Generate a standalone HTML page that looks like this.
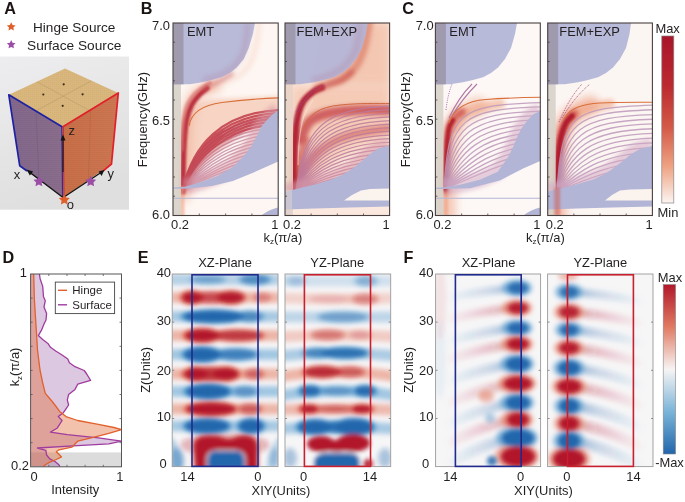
<!DOCTYPE html>
<html><head><meta charset="utf-8"><style>
html,body{margin:0;padding:0;background:#fff;}
svg{display:block;font-family:"Liberation Sans", sans-serif;}
text{opacity:0.995;}
</style></head><body>
<svg width="685" height="502" viewBox="0 0 685 502">
<defs><linearGradient id="bgA" x1="0" y1="0" x2="0.3" y2="1"><stop offset="0" stop-color="#ededef"/><stop offset="1" stop-color="#e0dfdf"/></linearGradient><linearGradient id="lface" x1="0" y1="0" x2="1" y2="0"><stop offset="0" stop-color="#83688c"/><stop offset="1" stop-color="#8b6e8c"/></linearGradient><linearGradient id="rface" x1="0" y1="0" x2="1" y2="0"><stop offset="0" stop-color="#c96f48"/><stop offset="1" stop-color="#ce7752"/></linearGradient><pattern id="hatch" width="3" height="2" patternUnits="userSpaceOnUse"><rect width="3" height="1" fill="#000" opacity="0.035"/></pattern><pattern id="dots" width="2" height="2" patternUnits="userSpaceOnUse"><rect width="1" height="1" fill="#8a6a40" opacity="0.06"/></pattern><filter id="bl1" filterUnits="userSpaceOnUse" x="0" y="0" width="685" height="502"><feGaussianBlur stdDeviation="1"/></filter><filter id="bl2" filterUnits="userSpaceOnUse" x="0" y="0" width="685" height="502"><feGaussianBlur stdDeviation="2"/></filter><filter id="bl4" filterUnits="userSpaceOnUse" x="0" y="0" width="685" height="502"><feGaussianBlur stdDeviation="4"/></filter><clipPath id="clip173"><rect x="173" y="23" width="105.19999999999999" height="192.5"/></clipPath><clipPath id="clip285"><rect x="285" y="23" width="104.60000000000002" height="192.5"/></clipPath><clipPath id="clip435"><rect x="435.4" y="23" width="104.89999999999998" height="192.5"/></clipPath><clipPath id="clip547"><rect x="547.7" y="23" width="104.69999999999993" height="192.5"/></clipPath><linearGradient id="cbC" x1="0" y1="0" x2="0" y2="1"><stop offset="0" stop-color="#a8152a"/><stop offset="0.3" stop-color="#bc2a30"/><stop offset="0.55" stop-color="#d45a48"/><stop offset="0.78" stop-color="#eea282"/><stop offset="1" stop-color="#fcf5f2"/></linearGradient><clipPath id="clipD"><rect x="30.6" y="274" width="90.9" height="192.8"/></clipPath><filter id="hb" filterUnits="userSpaceOnUse" x="0" y="0" width="685" height="502"><feGaussianBlur stdDeviation="2.2"/></filter><filter id="hb4" filterUnits="userSpaceOnUse" x="0" y="0" width="685" height="502"><feGaussianBlur stdDeviation="2.6"/></filter><linearGradient id="tRF" gradientUnits="userSpaceOnUse" x1="445" y1="0" x2="522" y2="0"><stop offset="0" stop-color="#b2182b" stop-opacity="0"/><stop offset="0.6" stop-color="#b2182b" stop-opacity="0.22"/><stop offset="1" stop-color="#b2182b" stop-opacity="0.5"/></linearGradient><linearGradient id="tBF" gradientUnits="userSpaceOnUse" x1="445" y1="0" x2="522" y2="0"><stop offset="0" stop-color="#2166ac" stop-opacity="0"/><stop offset="0.6" stop-color="#2166ac" stop-opacity="0.22"/><stop offset="1" stop-color="#2166ac" stop-opacity="0.5"/></linearGradient><linearGradient id="tRG" gradientUnits="userSpaceOnUse" x1="645" y1="0" x2="566" y2="0"><stop offset="0" stop-color="#b2182b" stop-opacity="0"/><stop offset="0.6" stop-color="#b2182b" stop-opacity="0.22"/><stop offset="1" stop-color="#b2182b" stop-opacity="0.5"/></linearGradient><linearGradient id="tBG" gradientUnits="userSpaceOnUse" x1="645" y1="0" x2="566" y2="0"><stop offset="0" stop-color="#2166ac" stop-opacity="0"/><stop offset="0.6" stop-color="#2166ac" stop-opacity="0.22"/><stop offset="1" stop-color="#2166ac" stop-opacity="0.5"/></linearGradient><clipPath id="clipEXZ"><rect x="172.2" y="274" width="105.80000000000001" height="192.60000000000002"/></clipPath><clipPath id="clipEYZ"><rect x="285.0" y="274" width="105.69999999999999" height="192.60000000000002"/></clipPath><clipPath id="clipFXZ"><rect x="435.6" y="274" width="105.0" height="192.60000000000002"/></clipPath><clipPath id="clipFYZ"><rect x="547.6" y="274" width="105.39999999999998" height="192.60000000000002"/></clipPath><linearGradient id="cbF" x1="0" y1="0" x2="0" y2="1"><stop offset="0" stop-color="#b2182b"/><stop offset="0.25" stop-color="#e07a62"/><stop offset="0.5" stop-color="#f7f4f4"/><stop offset="0.75" stop-color="#7ab4d8"/><stop offset="1" stop-color="#2166ac"/></linearGradient></defs>
<text x="4.3" y="14" font-size="16.2" text-anchor="start" font-weight="bold" fill="#1a1311" >A</text>
<text x="140.8" y="14" font-size="16.2" text-anchor="start" font-weight="bold" fill="#1a1311" >B</text>
<text x="402.2" y="14" font-size="16.2" text-anchor="start" font-weight="bold" fill="#1a1311" >C</text>
<text x="2.6" y="263" font-size="16.2" text-anchor="start" font-weight="bold" fill="#1a1311" >D</text>
<text x="137.7" y="263" font-size="16.2" text-anchor="start" font-weight="bold" fill="#1a1311" >E</text>
<text x="403.5" y="263" font-size="16.2" text-anchor="start" font-weight="bold" fill="#1a1311" >F</text>
<polygon points="11.20,22.20 12.55,24.94 15.57,25.38 13.39,27.51 13.90,30.52 11.20,29.10 8.50,30.52 9.01,27.51 6.83,25.38 9.85,24.94" fill="#e0602c"/>
<polygon points="11.20,40.00 12.55,42.74 15.57,43.18 13.39,45.31 13.90,48.32 11.20,46.90 8.50,48.32 9.01,45.31 6.83,43.18 9.85,42.74" fill="#9b4ea6"/>
<text x="33.0" y="31.9" font-size="13.6" text-anchor="start" font-weight="normal" fill="#231f20" >Hinge Source</text>
<text x="27.0" y="49.7" font-size="13.7" text-anchor="start" font-weight="normal" fill="#231f20" >Surface Source</text>
<rect x="0" y="56.5" width="129" height="153.2" fill="url(#bgA)"/>
<polygon points="65,68.6 8.8,94.8 62.5,127 118.3,93" fill="#d8b67c"/>
<polygon points="65,68.6 8.8,94.8 62.5,127 118.3,93" fill="url(#dots)"/>
<polygon points="8.8,94.8 62.5,127 63.3,197.5 19.7,165.7" fill="url(#lface)"/>
<polygon points="8.8,94.8 62.5,127 63.3,197.5 19.7,165.7" fill="url(#hatch)"/>
<polygon points="62.5,127 118.3,93 111.5,164 63.3,197.5" fill="url(#rface)"/>
<polygon points="62.5,127 118.3,93 111.5,164 63.3,197.5" fill="url(#hatch)"/>
<path d="M36.9,81.7 L90.3,111 M91.6,80.8 L35.6,111" stroke="#7a5a36" stroke-opacity="0.35" stroke-width="0.5" fill="none"/>
<circle cx="63.7" cy="84.3" r="1.1" fill="#3a2a1a"/>
<circle cx="43.3" cy="94.5" r="1.1" fill="#3a2a1a"/>
<circle cx="82.6" cy="94.3" r="1.1" fill="#3a2a1a"/>
<circle cx="62.7" cy="105.8" r="1.1" fill="#3a2a1a"/>
<path d="M36,111 L39,182 M90.5,110 L88.5,181" stroke="#000" stroke-opacity="0.12" stroke-width="0.6"/>
<polyline points="62.5,127 8.8,94.8 19.7,165.7 27,171" fill="none" stroke="#1e22a0" stroke-width="1.7" stroke-linejoin="round"/>
<line x1="61.8" y1="127" x2="62.6" y2="197" stroke="#2a2d9c" stroke-width="1.2"/>
<polyline points="62.5,127 118.3,93 111.5,164 103,171" fill="none" stroke="#e0202a" stroke-width="1.7" stroke-linejoin="round"/>
<line x1="63.3" y1="127" x2="64" y2="197" stroke="#d8232a" stroke-width="1"/>
<path d="M63,197.5 L30,172.5 M63.3,197.5 L101,172.5" stroke="#141414" stroke-width="1.4"/>
<path d="M26.5,169.6 L33.2,171.4 L29.8,175.6 Z" fill="#141414"/>
<path d="M104.5,169.8 L101.6,176 L98.6,171.6 Z" fill="#141414"/>
<path d="M63,172 L63,139" stroke="#141414" stroke-width="1.1"/><path d="M60.5,140.5 L63,134.5 L65.5,140.5 Z" fill="#141414"/>
<text x="68.6" y="134.6" font-size="13" text-anchor="start" font-weight="normal" fill="#231f20" >z</text>
<text x="13.8" y="178.6" font-size="13" text-anchor="start" font-weight="normal" fill="#231f20" >x</text>
<text x="107.6" y="178.4" font-size="13" text-anchor="start" font-weight="normal" fill="#231f20" >y</text>
<text x="66.8" y="209.2" font-size="13" text-anchor="start" font-weight="normal" fill="#231f20" >o</text>
<polygon points="38.90,175.80 40.60,179.25 44.42,179.81 41.66,182.50 42.31,186.29 38.90,184.50 35.49,186.29 36.14,182.50 33.38,179.81 37.20,179.25" fill="#9b4ea6"/>
<polygon points="90.70,175.80 92.40,179.25 96.22,179.81 93.46,182.50 94.11,186.29 90.70,184.50 87.29,186.29 87.94,182.50 85.18,179.81 89.00,179.25" fill="#9b4ea6"/>
<polygon points="64.30,194.00 66.00,197.45 69.82,198.01 67.06,200.70 67.71,204.49 64.30,202.70 60.89,204.49 61.54,200.70 58.78,198.01 62.60,197.45" fill="#e0602c"/>
<g clip-path="url(#clip173)">
<rect x="173" y="23" width="105.19999999999999" height="192.5" fill="#fdf6f2"/>
<path d="M184,188 L185,125 C187,108 195,100 215,99 L280,96 L280,113 C250,122 220,140 200,165 L186,188 Z" fill="#f6cfbd" opacity="0.85" filter="url(#bl2)"/>
<path d="M184.0,195.0 C184.2,187.5 184.3,163.3 185.0,150.0 C185.7,136.7 186.2,124.2 188.0,115.0 C189.8,105.8 191.5,99.8 196.0,95.0 C200.5,90.2 211.8,87.5 215.0,86.0" stroke="#f2b49a" stroke-width="12" fill="none" stroke-linecap="round" opacity="0.7" filter="url(#bl4)"/>
<path d="M212.0,86.0 C215.8,84.7 228.8,81.5 235.0,78.0 C241.2,74.5 245.5,70.5 249.0,65.0 C252.5,59.5 254.3,52.0 256.0,45.0 C257.7,38.0 258.5,26.7 259.0,23.0" stroke="#f6cdbb" stroke-width="6" fill="none" stroke-linecap="round" opacity="0.35" filter="url(#bl2)"/>
<path d="M183.0,192.0 C183.1,187.5 183.1,173.7 183.3,165.0 C183.5,156.3 183.8,147.5 184.3,140.0 C184.8,132.5 185.3,125.8 186.5,120.0 C187.7,114.2 189.4,109.2 191.5,105.0 C193.6,100.8 196.4,97.8 199.0,95.0 C201.6,92.2 205.7,89.2 207.0,88.0" stroke="#bb3340" stroke-width="5.5" fill="none" stroke-linecap="round" filter="url(#bl1)"/>
<path d="M204.0,90.0 C205.3,89.2 209.0,86.7 212.0,85.0 C215.0,83.3 218.7,81.8 222.0,80.0 C225.3,78.2 230.3,75.0 232.0,74.0" stroke="#c85858" stroke-width="4" fill="none" stroke-linecap="round" opacity="0.55" filter="url(#bl2)"/>
<path d="M182.0,150.0 C182.2,145.8 182.3,132.0 183.0,125.0 C183.7,118.0 184.5,112.7 186.0,108.0 C187.5,103.3 189.7,100.2 192.0,97.0 C194.3,93.8 197.0,91.3 200.0,89.0 C203.0,86.7 208.3,84.0 210.0,83.0" stroke="#d46a66" stroke-width="4" fill="none" stroke-linecap="round" opacity="0.65" filter="url(#bl1)"/>
<path d="M183.0,189.0 C192.5,146.4 221.1,120.1 280.2,118.0 M183.0,189.0 C194.0,149.4 222.5,123.3 280.2,121.2 M183.0,189.0 C195.4,152.3 224.0,126.4 280.2,124.5 M183.0,189.0 C196.9,155.0 225.5,129.5 280.2,127.7 M183.0,189.0 C198.4,157.7 226.9,132.7 280.2,130.9 M183.0,189.0 C199.8,160.3 228.4,135.8 280.2,134.2 M183.0,189.0 C201.3,162.8 229.9,138.9 280.2,137.4 M183.0,189.0 C202.8,165.2 231.3,142.1 280.2,140.6 M183.0,189.0 C204.2,167.5 232.8,145.2 280.2,143.8 M183.0,189.0 C205.7,169.7 234.3,148.3 280.2,147.1 M183.0,189.0 C207.2,171.7 235.7,151.5 280.2,150.3 M183.0,189.0 C208.6,173.7 237.2,154.6 280.2,153.5 M183.0,189.0 C210.1,175.6 238.7,157.7 280.2,156.8 M183.0,189.0 C211.6,177.4 240.1,160.9 280.2,160.0" fill="none" stroke="#c890a8" stroke-width="1.4" opacity="0.85"/>
<path d="M183.0,189.0 C192.5,145.6 221.1,112.4 280.2,110.0 M183.0,189.0 C193.5,147.9 222.0,115.1 280.2,112.8 M183.0,189.0 C194.4,150.1 223.0,117.8 280.2,115.6 M183.0,189.0 C195.4,152.3 223.9,120.5 280.2,118.4 M183.0,189.0 C196.3,154.4 224.9,123.2 280.2,121.2 M183.0,189.0 C197.3,156.5 225.8,126.0 280.2,124.0" fill="none" stroke="#c03a48" stroke-width="2.2" opacity="0.85"/>
<path d="M184.0,186.0 C186.3,182.7 192.0,172.8 198.0,166.0 C204.0,159.2 211.7,151.5 220.0,145.0 C228.3,138.5 238.3,131.7 248.0,127.0 C257.7,122.3 273.0,118.7 278.0,117.0" stroke="#c8505a" stroke-width="7" fill="none" stroke-linecap="round" opacity="0.45" filter="url(#bl2)"/>
<ellipse cx="187" cy="183" rx="5" ry="7" fill="#c24050" opacity="0.55" filter="url(#bl2)"/>
<rect x="180" y="186" width="4.5" height="30" fill="#f0a080" opacity="0.6" filter="url(#bl1)"/>
<path d="M189,126 C191,113 203,105 222,102.5 S262,98.5 280,97.8" stroke="#d8703a" stroke-width="1.1" fill="none"/>
<rect x="173" y="23" width="8" height="192.5" fill="#d8d3ca" opacity="0.92"/>
<path d="M173,23 L255.0,23 L252.9,34 L248.7,48 L243.8,59 L236.8,67.4 L229.9,73 L221.5,77.2 L211.7,80 L202.0,82.2 L190.0,84.3 L173,84.3 Z" fill="#b3b5d6" opacity="0.93"/>
<rect x="173" y="23" width="10.5" height="61.3" fill="#9d97ab" opacity="0.9"/>
<path d="M203.0,80.0 C206.2,79.0 216.5,76.7 222.0,74.0 C227.5,71.3 232.3,68.0 236.0,64.0 C239.7,60.0 242.0,56.8 244.0,50.0 C246.0,43.2 247.3,27.5 248.0,23.0" stroke="#b06080" stroke-width="6" fill="none" opacity="0.18" filter="url(#bl2)"/>
<path d="M278.2,110.0 L272.0,115.0 L268.0,119.0 L262.0,125.5 L256.8,136.0 L251.6,146.0 L243.0,157.0 L232.8,167.0 L218.0,175.7 L201.0,182.0 L185.0,186.8" stroke="#d898a8" stroke-width="16" fill="none" opacity="0.55" stroke-linejoin="round" filter="url(#bl2)"/>
<path d="M278.2,110 L272.0,115 L268.0,119 L262.0,125.5 L256.8,136 L251.6,146 L243.0,157 L232.8,167 L218.0,175.7 L201.0,182 L185.0,186.8 L173.0,187.6 L173.0,188.8 L190.0,188.6 L211.8,186 L232.8,181 L253.7,172.5 L270.4,165 L278.2,161.5 Z" fill="#b3b5d6"/>
<path d="M173,197.8 H278.2 V198.8 H173 Z" fill="#b3b5d6"/>
<path d="M261.2,215.5 C268.2,210.5 273.2,208.5 278.2,207.5 V215.5 Z" fill="#b3b5d6"/>
</g>
<rect x="173" y="23" width="105.19999999999999" height="192.5" fill="none" stroke="#4a3f3f" stroke-width="1.1"/>
<path d="M173,42.2 h2 M173,61.5 h2 M173,80.8 h2 M173,100.0 h2 M173,119.2 h2 M173,138.5 h2 M173,157.8 h2 M173,177.0 h2 M173,196.2 h2 M199.3,215.5 v-2 M225.6,215.5 v-2 M251.9,215.5 v-2" stroke="#4a3f3f" stroke-width="0.8"/>
<text x="186.9" y="36" font-size="12.9" text-anchor="start" font-weight="normal" fill="#231f20" >EMT</text>
<text x="180.0" y="228.7" font-size="12.9" text-anchor="middle" font-weight="normal" fill="#231f20" >0.2</text>
<text x="274.8" y="228.7" font-size="12.9" text-anchor="middle" font-weight="normal" fill="#231f20" >1</text>
<g clip-path="url(#clip285)">
<rect x="285" y="23" width="104.60000000000002" height="192.5" fill="#fbe9df"/>
<path d="M325,23 L389.6,23 L389.6,133 L305,133 Z" fill="#f6cfbd" opacity="0.7" filter="url(#bl4)"/>
<path d="M330,84 L389,84 L389,23 L365,23 Z" fill="#f3c4ae" opacity="0.8" filter="url(#bl4)"/>
<path d="M318.0,88.0 C321.7,86.7 333.7,83.7 340.0,80.0 C346.3,76.3 352.0,71.3 356.0,66.0 C360.0,60.7 361.8,55.2 364.0,48.0 C366.2,40.8 368.2,27.2 369.0,23.0" stroke="#de8670" stroke-width="8" fill="none" stroke-linecap="round" opacity="0.8" filter="url(#bl2)"/>
<path d="M291,86 L389,86 L389,140 C360,145 330,160 300,192 L291,195 Z" fill="#f4c8b2" opacity="0.8" filter="url(#bl4)"/>
<path d="M291,150 L330,150 L300,192 L291,195 Z" fill="#ecb0a0" opacity="0.6" filter="url(#bl4)"/>
<path d="M300.0,140.0 C301.7,136.8 305.0,125.5 310.0,121.0 C315.0,116.5 321.7,114.8 330.0,113.0 C338.3,111.2 349.7,110.5 360.0,110.0 C370.3,109.5 386.7,110.0 392.0,110.0" stroke="#c43c44" stroke-width="10" fill="none" stroke-linecap="round" opacity="0.75" filter="url(#bl2)"/>
<path d="M298.0,178.0 C301.3,173.7 309.7,159.0 318.0,152.0 C326.3,145.0 335.7,140.0 348.0,136.0 C360.3,132.0 384.7,129.3 392.0,128.0" stroke="#cc5050" stroke-width="8" fill="none" stroke-linecap="round" opacity="0.55" filter="url(#bl2)"/>
<path d="M296.0,190.0 C296.7,185.0 298.3,168.3 300.0,160.0 C301.7,151.7 305.0,143.3 306.0,140.0" stroke="#c84848" stroke-width="8" fill="none" stroke-linecap="round" opacity="0.6" filter="url(#bl2)"/>
<path d="M293.5,196.0 C293.6,191.7 293.8,179.3 294.0,170.0 C294.2,160.7 294.4,148.7 295.0,140.0 C295.6,131.3 296.2,124.3 297.5,118.0 C298.8,111.7 300.4,106.3 303.0,102.0 C305.6,97.7 309.8,94.4 313.0,92.0 C316.2,89.6 320.5,88.2 322.0,87.5" stroke="#b42836" stroke-width="6.5" fill="none" stroke-linecap="round" filter="url(#bl1)"/>
<path d="M316.0,90.0 C318.0,89.2 323.7,86.7 328.0,85.0 C332.3,83.3 338.0,82.2 342.0,80.0 C346.0,77.8 350.3,73.3 352.0,72.0" stroke="#c64848" stroke-width="5" fill="none" stroke-linecap="round" opacity="0.6" filter="url(#bl2)"/>
<path d="M298.0,165.0 C298.2,160.5 298.5,146.2 299.5,138.0 C300.5,129.8 301.8,122.3 304.0,116.0 C306.2,109.7 311.5,102.7 313.0,100.0" stroke="#fbe4dc" stroke-width="1.2" fill="none" opacity="0.55"/>
<path d="M296.0,191.0 C303.5,127.2 324.1,108.5 391.6,106.0 M296.0,191.0 C304.5,131.3 325.4,112.1 391.6,109.6 M296.0,191.0 C305.4,135.3 326.8,115.6 391.6,113.2 M296.0,191.0 C306.4,139.1 328.1,119.1 391.6,116.9 M296.0,191.0 C307.4,142.8 329.4,122.6 391.6,120.5 M296.0,191.0 C308.4,146.4 330.8,126.1 391.6,124.1 M296.0,191.0 C309.4,149.9 332.1,129.6 391.6,127.7 M296.0,191.0 C310.4,153.2 333.4,133.1 391.6,131.3 M296.0,191.0 C311.3,156.4 334.8,136.6 391.6,135.0 M296.0,191.0 C312.3,159.5 336.1,140.1 391.6,138.6 M296.0,191.0 C313.3,162.5 337.5,143.7 391.6,142.2 M296.0,191.0 C314.3,165.4 338.8,147.2 391.6,145.8 M296.0,191.0 C315.3,168.1 340.1,150.7 391.6,149.4 M296.0,191.0 C316.2,170.8 341.5,154.2 391.6,153.0 M296.0,191.0 C317.2,173.3 342.8,157.7 391.6,156.7 M296.0,191.0 C318.2,175.6 344.1,161.2 391.6,160.3 M296.0,191.0 C319.2,177.9 345.5,164.7 391.6,163.9 M296.0,191.0 C320.2,180.0 346.8,168.2 391.6,167.5 M296.0,191.0 C321.1,182.1 348.1,171.7 391.6,171.1 M296.0,191.0 C322.1,184.0 349.5,175.2 391.6,174.8 M296.0,191.0 C323.1,185.7 350.8,178.8 391.6,178.4 M296.0,191.0 C324.1,187.4 352.2,182.3 391.6,182.0" fill="none" stroke="#bc7a9c" stroke-width="1.2" opacity="0.85"/>
<path d="M303,130 C308,114 320,107 340,105 S375,103.5 392,103.5" stroke="#d06a40" stroke-width="1" fill="none"/>
<path d="M296,112 C302,100 312,92 325,85" stroke="#a050a0" stroke-width="0.9" stroke-dasharray="1 1.2" fill="none"/>
<path d="M294,125 C298,108 306,96 318,86" stroke="#a050a0" stroke-width="0.9" stroke-dasharray="1 1.2" fill="none"/>
<rect x="285" y="23" width="8" height="192.5" fill="#e8d2c6" opacity="0.92"/>
<path d="M285,23 L367.7,23 L366.0,34 L362.0,48 L356.0,59 L349.0,67.4 L342.0,73 L334.0,77.2 L324.0,80 L314.0,82.2 L300.0,84.3 L285,84.3 Z" fill="#b3b5d6" opacity="0.93"/>
<rect x="285" y="23" width="10.5" height="61.3" fill="#9d97ab" opacity="0.9"/>
<path d="M312.0,80.0 C315.3,79.0 326.3,76.7 332.0,74.0 C337.7,71.3 342.0,68.3 346.0,64.0 C350.0,59.7 353.7,54.8 356.0,48.0 C358.3,41.2 359.3,27.2 360.0,23.0" stroke="#b06080" stroke-width="6" fill="none" opacity="0.18" filter="url(#bl2)"/>
<path d="M285.0,192.0 L300.0,188.0 L315.0,184.5 L330.0,180.0 L342.0,175.0 L352.0,169.0 L362.0,161.0 L370.0,154.0 L378.0,148.5 L389.6,145.5" stroke="#d898a8" stroke-width="16" fill="none" opacity="0.55" stroke-linejoin="round" filter="url(#bl2)"/>
<path d="M285.0,192 L300.0,188 L315.0,184.5 L330.0,180 L342.0,175 L352.0,169 L362.0,161 L370.0,154 L378.0,148.5 L389.6,145.5 L389.6,206.5 L349.6,207.5 L315.0,208.5 L285.0,209.5 Z" fill="#b3b5d6"/>
<rect x="285" y="190" width="7" height="25.5" fill="#d8d0d0" opacity="0.6"/>
<path d="M344.0,200.5 L352.0,195.0 L361.0,190.5 L370.0,189.0 L389.6,188.5 L389.6,200.5 Z" fill="#fbf3ee"/>
</g>
<rect x="285" y="23" width="104.60000000000002" height="192.5" fill="none" stroke="#4a3f3f" stroke-width="1.1"/>
<path d="M285,42.2 h2 M285,61.5 h2 M285,80.8 h2 M285,100.0 h2 M285,119.2 h2 M285,138.5 h2 M285,157.8 h2 M285,177.0 h2 M285,196.2 h2 M311.1,215.5 v-2 M337.3,215.5 v-2 M363.5,215.5 v-2" stroke="#4a3f3f" stroke-width="0.8"/>
<text x="296.6" y="36" font-size="12.9" text-anchor="start" font-weight="normal" fill="#231f20" >FEM+EXP</text>
<text x="292.0" y="228.7" font-size="12.9" text-anchor="middle" font-weight="normal" fill="#231f20" >0.2</text>
<text x="386.20000000000005" y="228.7" font-size="12.9" text-anchor="middle" font-weight="normal" fill="#231f20" >1</text>
<g clip-path="url(#clip435)">
<rect x="435.4" y="23" width="104.89999999999998" height="192.5" fill="#fdf8f6"/>
<path d="M447.0,215.0 C447.0,209.2 446.5,192.5 447.0,180.0 C447.5,167.5 448.2,150.3 450.0,140.0 C451.8,129.7 453.3,123.7 458.0,118.0 C462.7,112.3 474.7,108.0 478.0,106.0" stroke="#f2b8a0" stroke-width="18" fill="none" stroke-linecap="round" opacity="0.7" filter="url(#bl4)"/>
<path d="M455.0,128.0 C456.7,125.7 460.8,117.3 465.0,114.0 C469.2,110.7 474.2,109.7 480.0,108.0 C485.8,106.3 496.7,104.7 500.0,104.0" stroke="#f0a888" stroke-width="10" fill="none" stroke-linecap="round" opacity="0.6" filter="url(#bl2)"/>
<rect x="443.5" y="186" width="4.5" height="30" fill="#f0a080" opacity="0.65" filter="url(#bl1)"/>
<path d="M445.5,190.0 C445.6,186.7 445.8,177.5 446.0,170.0 C446.2,162.5 446.4,152.2 447.0,145.0 C447.6,137.8 448.2,131.7 449.5,127.0 C450.8,122.3 452.9,119.5 455.0,117.0 C457.1,114.5 460.8,112.8 462.0,112.0" stroke="#c83c3c" stroke-width="8" fill="none" stroke-linecap="round" opacity="0.7" filter="url(#bl2)"/>
<path d="M445.5,189.0 C445.6,185.8 445.8,177.3 446.0,170.0 C446.2,162.7 446.5,152.0 447.0,145.0 C447.5,138.0 448.0,132.2 449.0,128.0 C450.0,123.8 452.3,121.3 453.0,120.0" stroke="#b2202f" stroke-width="4.5" fill="none" stroke-linecap="round" filter="url(#bl1)"/>
<path d="M444.0,188.5 C448.8,111.1 458.4,105.1 542.3,102.5 M444.0,188.5 C450.7,118.7 461.8,109.2 542.3,106.8 M444.0,188.5 C452.5,125.9 465.1,113.4 542.3,111.0 M444.0,188.5 C454.4,132.8 468.4,117.5 542.3,115.3 M444.0,188.5 C456.2,139.2 471.8,121.6 542.3,119.6 M444.0,188.5 C458.1,145.2 475.1,125.8 542.3,123.8 M444.0,188.5 C459.9,150.9 478.4,129.9 542.3,128.1 M444.0,188.5 C461.8,156.1 481.8,134.1 542.3,132.4 M444.0,188.5 C463.6,161.0 485.1,138.2 542.3,136.7 M444.0,188.5 C465.5,165.4 488.4,142.4 542.3,140.9 M444.0,188.5 C467.3,169.5 491.8,146.5 542.3,145.2 M444.0,188.5 C469.2,173.2 495.1,150.6 542.3,149.5 M444.0,188.5 C471.0,176.5 498.4,154.8 542.3,153.7 M444.0,188.5 C472.9,179.3 501.8,158.9 542.3,158.0" fill="none" stroke="#bc98b8" stroke-width="1.3" opacity="0.85"/>
<path d="M449,118 C455,105 462,94 472,84 M452,116 C459,104 467,94 477,84" stroke="#b07aa4" stroke-width="1.1" fill="none"/>
<path d="M446,110 C447,100 449,92 452,84" stroke="#9a5aa0" stroke-width="0.9" stroke-dasharray="1 1.3" fill="none"/>
<path d="M449,123 C454,108 466,101 486,99.5 S525,97.5 542,97.3" stroke="#d8703a" stroke-width="1.1" fill="none"/>
<rect x="435.4" y="23" width="8" height="192.5" fill="#d8d3ca" opacity="0.92"/>
<path d="M435.4,23 L517.0,23 L515.0,34 L511.0,48 L505.0,59 L498.0,67.4 L491.0,73 L483.0,77.2 L473.0,80 L463.0,82.2 L450.0,84.3 L435.4,84.3 Z" fill="#b3b5d6" opacity="0.93"/>
<rect x="435.4" y="23" width="10.5" height="61.3" fill="#9d97ab" opacity="0.9"/>
<path d="M540.3,111.0 L533.6,114.0 L527.7,120.0 L521.7,127.9 L517.7,135.9 L512.7,147.8 L507.7,157.8 L497.8,171.7 L479.8,179.7 L460.0,184.7 L445.0,187.3" stroke="#d2a8c4" stroke-width="16" fill="none" opacity="0.55" stroke-linejoin="round" filter="url(#bl2)"/>
<path d="M540.3,111 L533.6,114 L527.7,120 L521.7,127.9 L517.7,135.9 L512.7,147.8 L507.7,157.8 L497.8,171.7 L479.8,179.7 L460.0,184.7 L445.0,187.3 L435.4,187.8 L435.4,189 L450.0,188.8 L469.9,188.2 L499.8,180.4 L523.7,168.2 L540.3,161 Z" fill="#b3b5d6"/>
<path d="M435.4,197.8 H540.3 V198.8 H435.4 Z" fill="#b3b5d6"/>
<path d="M523.3,215.5 C530.3,210.5 535.3,208.5 540.3,207.5 V215.5 Z" fill="#b3b5d6"/>
</g>
<rect x="435.4" y="23" width="104.89999999999998" height="192.5" fill="none" stroke="#4a3f3f" stroke-width="1.1"/>
<path d="M435.4,42.2 h2 M435.4,61.5 h2 M435.4,80.8 h2 M435.4,100.0 h2 M435.4,119.2 h2 M435.4,138.5 h2 M435.4,157.8 h2 M435.4,177.0 h2 M435.4,196.2 h2 M461.6,215.5 v-2 M487.8,215.5 v-2 M514.1,215.5 v-2" stroke="#4a3f3f" stroke-width="0.8"/>
<text x="449.29999999999995" y="36" font-size="12.9" text-anchor="start" font-weight="normal" fill="#231f20" >EMT</text>
<text x="442.4" y="228.7" font-size="12.9" text-anchor="middle" font-weight="normal" fill="#231f20" >0.2</text>
<text x="536.9" y="228.7" font-size="12.9" text-anchor="middle" font-weight="normal" fill="#231f20" >1</text>
<g clip-path="url(#clip547)">
<rect x="547.7" y="23" width="104.69999999999993" height="192.5" fill="#fcf6f3"/>
<path d="M557.0,215.0 C557.2,205.8 557.2,174.2 558.0,160.0 C558.8,145.8 559.7,137.5 562.0,130.0 C564.3,122.5 567.3,119.2 572.0,115.0 C576.7,110.8 587.0,106.7 590.0,105.0" stroke="#f0a890" stroke-width="18" fill="none" stroke-linecap="round" opacity="0.75" filter="url(#bl4)"/>
<path d="M565.0,130.0 C566.7,127.5 570.8,118.7 575.0,115.0 C579.2,111.3 584.2,109.8 590.0,108.0 C595.8,106.2 606.7,104.7 610.0,104.0" stroke="#f0a888" stroke-width="10" fill="none" stroke-linecap="round" opacity="0.6" filter="url(#bl2)"/>
<path d="M556.5,200.0 C556.6,196.7 556.7,187.5 557.0,180.0 C557.3,172.5 557.8,162.5 558.5,155.0 C559.2,147.5 560.2,140.5 561.5,135.0 C562.8,129.5 563.9,125.5 566.0,122.0 C568.1,118.5 572.7,115.3 574.0,114.0" stroke="#c83c3c" stroke-width="9" fill="none" stroke-linecap="round" opacity="0.7" filter="url(#bl2)"/>
<path d="M556.5,200.0 C556.6,196.7 556.7,187.5 557.0,180.0 C557.3,172.5 557.8,162.5 558.5,155.0 C559.2,147.5 560.2,140.3 561.5,135.0 C562.8,129.7 564.2,126.2 566.0,123.0 C567.8,119.8 571.0,117.2 572.0,116.0" stroke="#b01c2e" stroke-width="5.5" fill="none" stroke-linecap="round" filter="url(#bl1)"/>
<path d="M557.0,191.0 C561.8,113.6 571.3,107.6 654.4,105.0 M557.0,191.0 C563.4,121.1 574.2,112.2 654.4,109.7 M557.0,191.0 C565.0,128.2 577.0,116.8 654.4,114.5 M557.0,191.0 C566.5,135.0 579.9,121.4 654.4,119.2 M557.0,191.0 C568.1,141.4 582.8,125.9 654.4,123.9 M557.0,191.0 C569.7,147.4 585.6,130.5 654.4,128.7 M557.0,191.0 C571.3,153.0 588.5,135.1 654.4,133.4 M557.0,191.0 C572.9,158.2 591.3,139.7 654.4,138.1 M557.0,191.0 C574.5,163.1 594.2,144.3 654.4,142.9 M557.0,191.0 C576.1,167.6 597.1,148.9 654.4,147.6 M557.0,191.0 C577.7,171.7 599.9,153.5 654.4,152.3 M557.0,191.0 C579.3,175.4 602.8,158.1 654.4,157.1 M557.0,191.0 C580.9,178.7 605.7,162.7 654.4,161.8 M557.0,191.0 C582.4,181.7 608.5,167.3 654.4,166.5 M557.0,191.0 C584.0,184.3 611.4,171.9 654.4,171.3 M557.0,191.0 C585.6,186.5 614.2,176.4 654.4,176.0" fill="none" stroke="#bc98b8" stroke-width="1.3" opacity="0.85"/>
<path d="M562,118 C570,105 578,94 590,84 M559,122 C565,108 572,95 582,84" stroke="#a65079" stroke-width="0.9" stroke-dasharray="1 1" fill="none"/>
<path d="M564,119 C570,108 582,104 600,103 S640,102.3 655,102.3" stroke="#d8703a" stroke-width="1.1" fill="none"/>
<rect x="547.7" y="23" width="8" height="192.5" fill="#d8d3ca" opacity="0.92"/>
<path d="M547.7,23 L631.0,23 L629.5,34 L626.0,48 L620.0,59 L613.0,67.4 L606.0,73 L598.0,77.2 L588.0,80 L578.0,82.2 L565.0,84.3 L547.7,84.3 Z" fill="#b3b5d6" opacity="0.93"/>
<rect x="547.7" y="23" width="10.5" height="61.3" fill="#9d97ab" opacity="0.9"/>
<path d="M547.7,191.5 L563.0,188.0 L578.0,184.0 L593.0,179.5 L605.0,174.0 L615.0,167.0 L624.0,160.0 L632.0,153.5 L640.0,149.0 L652.4,146.0" stroke="#d2a8c4" stroke-width="16" fill="none" opacity="0.55" stroke-linejoin="round" filter="url(#bl2)"/>
<path d="M547.7,191.5 L563.0,188 L578.0,184 L593.0,179.5 L605.0,174 L615.0,167 L624.0,160 L632.0,153.5 L640.0,149 L652.4,146 L652.4,206.5 L612.4,207.5 L577.7,208.5 L547.7,209.5 Z" fill="#b3b5d6"/>
<rect x="554.2" y="188" width="6" height="27.5" fill="#d0605a" opacity="0.55" filter="url(#bl1)"/>
<path d="M605.0,200.5 L612.0,195.0 L620.0,190.5 L630.0,189.5 L652.4,189.0 L652.4,200.5 Z" fill="#fbf3ee"/>
</g>
<rect x="547.7" y="23" width="104.69999999999993" height="192.5" fill="none" stroke="#4a3f3f" stroke-width="1.1"/>
<path d="M547.7,42.2 h2 M547.7,61.5 h2 M547.7,80.8 h2 M547.7,100.0 h2 M547.7,119.2 h2 M547.7,138.5 h2 M547.7,157.8 h2 M547.7,177.0 h2 M547.7,196.2 h2 M573.9,215.5 v-2 M600.0,215.5 v-2 M626.2,215.5 v-2" stroke="#4a3f3f" stroke-width="0.8"/>
<text x="559.3000000000001" y="36" font-size="12.9" text-anchor="start" font-weight="normal" fill="#231f20" >FEM+EXP</text>
<text x="554.7" y="228.7" font-size="12.9" text-anchor="middle" font-weight="normal" fill="#231f20" >0.2</text>
<text x="649.0" y="228.7" font-size="12.9" text-anchor="middle" font-weight="normal" fill="#231f20" >1</text>
<text x="170.0" y="29.6" font-size="12.9" text-anchor="end" font-weight="normal" fill="#231f20" >7.0</text>
<text x="170.0" y="124.5" font-size="12.9" text-anchor="end" font-weight="normal" fill="#231f20" >6.5</text>
<text x="170.0" y="219.0" font-size="12.9" text-anchor="end" font-weight="normal" fill="#231f20" >6.0</text>
<text x="433.6" y="29.6" font-size="12.9" text-anchor="end" font-weight="normal" fill="#231f20" >7.0</text>
<text x="433.6" y="124.5" font-size="12.9" text-anchor="end" font-weight="normal" fill="#231f20" >6.5</text>
<text x="433.6" y="219.0" font-size="12.9" text-anchor="end" font-weight="normal" fill="#231f20" >6.0</text>
<text transform="translate(147.0,119.6) rotate(-90)" font-size="12.9" text-anchor="middle" fill="#231f20">Frequency(GHz)</text>
<text transform="translate(409.8,119.6) rotate(-90)" font-size="12.9" text-anchor="middle" fill="#231f20">Frequency(GHz)</text>
<text x="263.5" y="241.8" font-size="12.9" fill="#231f20">k<tspan font-size="8" dy="2.5">z</tspan><tspan dy="-2.5">(π/a)</tspan></text>
<text x="526" y="241.8" font-size="12.9" fill="#231f20">k<tspan font-size="8" dy="2.5">z</tspan><tspan dy="-2.5">(π/a)</tspan></text>
<rect x="661.8" y="36" width="12" height="167" fill="url(#cbC)" stroke="#8a8585" stroke-width="0.7"/>
<text x="667.6" y="33" font-size="12.9" text-anchor="middle" font-weight="normal" fill="#231f20" >Max</text>
<text x="668" y="217" font-size="12.9" text-anchor="middle" font-weight="normal" fill="#231f20" >Min</text>
<g clip-path="url(#clipD)">
<rect x="30.6" y="452.4" width="90.9" height="14.400000000000034" fill="#dcdcdc"/>
<path d="M39.4,274.0 L40.1,278.7 L42.7,286.4 L43.5,296.8 L45.3,300.7 L44.0,307.0 L46.6,313.6 L46.0,320.0 L44.0,324.0 L41.4,330.4 L38.3,335.6 L42.7,339.5 L47.9,343.4 L50.5,347.3 L55.7,351.0 L62.1,355.0 L67.8,359.0 L69.4,362.8 L75.0,366.7 L84.2,370.5 L86.7,374.0 L90.6,380.4 L77.7,384.2 L75.0,389.4 L68.6,394.6 L67.3,399.8 L68.6,405.0 L66.0,408.8 L63.4,412.7 L58.3,416.6 L62.1,420.5 L59.6,424.4 L57.0,428.3 L50.5,432.1 L67.3,434.7 L98.4,437.8 L121.5,441.2 L108.8,443.8 L77.7,445.6 L37.5,448.0 L45.9,450.4 L46.6,455.0 L49.8,458.9 L55.0,461.5 L58.9,464.7 L60.0,466.8 L30.6,466.8 L30.6,274 Z" fill="rgb(138,72,152)" fill-opacity="0.3"/>
<path d="M33.7,274.0 L34.4,300.0 L36.3,330.0 L37.5,350.0 L40.0,370.0 L42.7,383.0 L45.3,393.3 L51.8,401.0 L55.7,406.0 L59.6,411.4 L66.0,416.6 L77.7,420.5 L98.4,424.4 L114.0,427.5 L121.5,429.6 L108.8,433.4 L93.2,437.3 L77.7,441.2 L75.7,443.3 L71.8,447.2 L58.9,449.8 L56.3,451.7 L58.9,454.3 L61.5,456.9 L56.3,459.5 L49.8,462.1 L45.3,464.7 L43.3,466.8 L30.6,466.8 L30.6,274 Z" fill="rgb(225,110,60)" fill-opacity="0.42"/>
<path d="M39.4,274.0 L40.1,278.7 L42.7,286.4 L43.5,296.8 L45.3,300.7 L44.0,307.0 L46.6,313.6 L46.0,320.0 L44.0,324.0 L41.4,330.4 L38.3,335.6 L42.7,339.5 L47.9,343.4 L50.5,347.3 L55.7,351.0 L62.1,355.0 L67.8,359.0 L69.4,362.8 L75.0,366.7 L84.2,370.5 L86.7,374.0 L90.6,380.4 L77.7,384.2 L75.0,389.4 L68.6,394.6 L67.3,399.8 L68.6,405.0 L66.0,408.8 L63.4,412.7 L58.3,416.6 L62.1,420.5 L59.6,424.4 L57.0,428.3 L50.5,432.1 L67.3,434.7 L98.4,437.8 L121.5,441.2 L108.8,443.8 L77.7,445.6 L37.5,448.0 L45.9,450.4 L46.6,455.0 L49.8,458.9 L55.0,461.5 L58.9,464.7 L60.0,466.8" fill="none" stroke="#a03c9e" stroke-width="1.3" stroke-linejoin="round"/>
<path d="M33.7,274.0 L34.4,300.0 L36.3,330.0 L37.5,350.0 L40.0,370.0 L42.7,383.0 L45.3,393.3 L51.8,401.0 L55.7,406.0 L59.6,411.4 L66.0,416.6 L77.7,420.5 L98.4,424.4 L114.0,427.5 L121.5,429.6 L108.8,433.4 L93.2,437.3 L77.7,441.2 L75.7,443.3 L71.8,447.2 L58.9,449.8 L56.3,451.7 L58.9,454.3 L61.5,456.9 L56.3,459.5 L49.8,462.1 L45.3,464.7 L43.3,466.8" fill="none" stroke="#e2602c" stroke-width="1.3" stroke-linejoin="round"/>
</g>
<rect x="30.6" y="274" width="90.9" height="192.8" fill="none" stroke="#555" stroke-width="1"/>
<path d="M30.6,298.1 h2 M121.5,298.1 h-2 M30.6,322.2 h2 M121.5,322.2 h-2 M30.6,346.3 h2 M121.5,346.3 h-2 M30.6,370.4 h2 M121.5,370.4 h-2 M30.6,394.5 h2 M121.5,394.5 h-2 M30.6,418.6 h2 M121.5,418.6 h-2 M30.6,442.7 h2 M121.5,442.7 h-2 M48.8,466.8 v-2 M48.8,274 v2 M67.0,466.8 v-2 M67.0,274 v2 M85.1,466.8 v-2 M85.1,274 v2 M103.3,466.8 v-2 M103.3,274 v2" stroke="#555" stroke-width="0.8"/>
<rect x="55.3" y="282.1" width="59.3" height="31.5" fill="#fff" stroke="#444" stroke-width="0.9"/>
<path d="M58,290.3 h9" stroke="#e2602c" stroke-width="1.4"/><path d="M58,304.8 h9" stroke="#a03c9e" stroke-width="1.4"/>
<text x="72.3" y="293.8" font-size="11.5" text-anchor="start" font-weight="normal" fill="#231f20" >Hinge</text>
<text x="72.3" y="308.7" font-size="11.5" text-anchor="start" font-weight="normal" fill="#231f20" >Surface</text>
<text x="26.8" y="276.6" font-size="12.9" text-anchor="end" font-weight="normal" fill="#231f20" >1</text>
<text x="29.0" y="469.8" font-size="12.9" text-anchor="end" font-weight="normal" fill="#231f20" >0.2</text>
<text x="34.2" y="481" font-size="12.9" text-anchor="middle" font-weight="normal" fill="#231f20" >0</text>
<text x="119.8" y="481" font-size="12.9" text-anchor="middle" font-weight="normal" fill="#231f20" >1</text>
<text x="75.2" y="493.8" font-size="12.9" text-anchor="middle" font-weight="normal" fill="#231f20" >Intensity</text>
<text transform="translate(19,367) rotate(-90)" font-size="12.9" text-anchor="middle" fill="#231f20">k<tspan font-size="8" dy="2.5">z</tspan><tspan dy="-2.5">(π/a)</tspan></text>
<rect x="172.2" y="274" width="105.80000000000001" height="192.60000000000002" fill="#f7f6f7"/>
<g clip-path="url(#clipEXZ)">
<g filter="url(#hb4)">
<rect x="164.2" y="274.0" width="121.80000000000001" height="11" fill="#5fa0d0" fill-opacity="0.4375"/>
<ellipse cx="208" cy="279.5" rx="19.5" ry="5.7" fill="#5fa0d0" fill-opacity="0.315"/>
<ellipse cx="255" cy="279.5" rx="17.5" ry="6.7" fill="#5fa0d0" fill-opacity="0.49500000000000005"/>
<rect x="164.2" y="292.0" width="121.80000000000001" height="11" fill="#e4826a" fill-opacity="0.525"/>
<ellipse cx="192" cy="297.5" rx="13.5" ry="7.7" fill="#e4826a" fill-opacity="0.9"/>
<ellipse cx="231" cy="297.5" rx="16.5" ry="7.7" fill="#e4826a" fill-opacity="0.855"/>
<ellipse cx="212" cy="297.5" rx="28.5" ry="7.2" fill="#e4826a" fill-opacity="0.54"/>
<ellipse cx="262" cy="297.5" rx="11.5" ry="6.2" fill="#e4826a" fill-opacity="0.27"/>
<rect x="164.2" y="311.0" width="121.80000000000001" height="11" fill="#5fa0d0" fill-opacity="0.525"/>
<ellipse cx="213" cy="316.5" rx="33.5" ry="7.7" fill="#5fa0d0" fill-opacity="0.9"/>
<ellipse cx="250" cy="316.5" rx="15.5" ry="6.7" fill="#5fa0d0" fill-opacity="0.49500000000000005"/>
<rect x="164.2" y="330.0" width="121.80000000000001" height="11" fill="#e4826a" fill-opacity="0.5625"/>
<ellipse cx="202" cy="335.5" rx="20.5" ry="8.2" fill="#e4826a" fill-opacity="0.9"/>
<ellipse cx="238" cy="335.5" rx="28.5" ry="7.2" fill="#e4826a" fill-opacity="0.675"/>
<rect x="164.2" y="349.0" width="121.80000000000001" height="11" fill="#5fa0d0" fill-opacity="0.5625"/>
<ellipse cx="202" cy="354.5" rx="21.5" ry="8.7" fill="#5fa0d0" fill-opacity="0.9"/>
<ellipse cx="236" cy="354.5" rx="23.5" ry="7.2" fill="#5fa0d0" fill-opacity="0.5850000000000001"/>
<rect x="164.2" y="368.5" width="121.80000000000001" height="11" fill="#e4826a" fill-opacity="0.5625"/>
<ellipse cx="196" cy="374" rx="14.5" ry="8.2" fill="#e4826a" fill-opacity="0.9"/>
<ellipse cx="226" cy="374" rx="15.5" ry="8.2" fill="#e4826a" fill-opacity="0.9"/>
<ellipse cx="211" cy="374" rx="31.5" ry="8.2" fill="#e4826a" fill-opacity="0.7200000000000001"/>
<ellipse cx="254" cy="374" rx="12.5" ry="6.7" fill="#e4826a" fill-opacity="0.405"/>
<rect x="164.2" y="386.0" width="121.80000000000001" height="11" fill="#5fa0d0" fill-opacity="0.5625"/>
<ellipse cx="208" cy="391.5" rx="25.5" ry="8.7" fill="#5fa0d0" fill-opacity="0.9"/>
<ellipse cx="245" cy="391.5" rx="14.5" ry="6.7" fill="#5fa0d0" fill-opacity="0.405"/>
<rect x="164.2" y="403.5" width="121.80000000000001" height="11" fill="#e4826a" fill-opacity="0.5625"/>
<ellipse cx="211" cy="409" rx="28.5" ry="8.2" fill="#e4826a" fill-opacity="0.9"/>
<ellipse cx="250" cy="409" rx="14.5" ry="6.7" fill="#e4826a" fill-opacity="0.45"/>
<rect x="164.2" y="420.5" width="121.80000000000001" height="11" fill="#5fa0d0" fill-opacity="0.525"/>
<ellipse cx="207" cy="426" rx="25.5" ry="8.7" fill="#5fa0d0" fill-opacity="0.9"/>
<ellipse cx="251" cy="426" rx="15.5" ry="8.7" fill="#5fa0d0" fill-opacity="0.9"/>
<ellipse cx="176" cy="460" rx="8" ry="12" fill="#2166ac" fill-opacity="0.5"/>
<ellipse cx="275" cy="458" rx="6" ry="10" fill="#2166ac" fill-opacity="0.35"/>
<ellipse cx="225" cy="445" rx="45" ry="12" fill="#b2182b" fill-opacity="0.3"/>
<path d="M193,446 C193,437 200,434 212,434.5 C222,435 226,438 229,438 C233,438 238,434 246,434.5 C256,435 259,440 259,447 L259,470 L193,470 Z" fill="#e4826a" fill-opacity="0.7"/>
<path d="M168,440 Q176,445 180,470" stroke="#5fa0d0" stroke-opacity="0.5" stroke-width="8" fill="none"/>
<path d="M282,440 Q274,445 270,470" stroke="#5fa0d0" stroke-opacity="0.4" stroke-width="8" fill="none"/>
</g><g filter="url(#hb)">
<ellipse cx="208" cy="279.5" rx="16" ry="3.5" fill="#2166ac" fill-opacity="0.35"/>
<ellipse cx="255" cy="279.5" rx="14" ry="4.5" fill="#2166ac" fill-opacity="0.55"/>
<ellipse cx="192" cy="297.5" rx="10" ry="5.5" fill="#b2182b" fill-opacity="1.0"/>
<ellipse cx="231" cy="297.5" rx="13" ry="5.5" fill="#b2182b" fill-opacity="0.95"/>
<ellipse cx="212" cy="297.5" rx="25" ry="5" fill="#b2182b" fill-opacity="0.6"/>
<ellipse cx="262" cy="297.5" rx="8" ry="4" fill="#b2182b" fill-opacity="0.3"/>
<ellipse cx="213" cy="316.5" rx="30" ry="5.5" fill="#2166ac" fill-opacity="1.0"/>
<ellipse cx="250" cy="316.5" rx="12" ry="4.5" fill="#2166ac" fill-opacity="0.55"/>
<ellipse cx="202" cy="335.5" rx="17" ry="6" fill="#b2182b" fill-opacity="1.0"/>
<ellipse cx="238" cy="335.5" rx="25" ry="5" fill="#b2182b" fill-opacity="0.75"/>
<ellipse cx="202" cy="354.5" rx="18" ry="6.5" fill="#2166ac" fill-opacity="1.0"/>
<ellipse cx="236" cy="354.5" rx="20" ry="5" fill="#2166ac" fill-opacity="0.65"/>
<ellipse cx="196" cy="374" rx="11" ry="6" fill="#b2182b" fill-opacity="1"/>
<ellipse cx="226" cy="374" rx="12" ry="6" fill="#b2182b" fill-opacity="1"/>
<ellipse cx="211" cy="374" rx="28" ry="6" fill="#b2182b" fill-opacity="0.8"/>
<ellipse cx="254" cy="374" rx="9" ry="4.5" fill="#b2182b" fill-opacity="0.45"/>
<ellipse cx="208" cy="391.5" rx="22" ry="6.5" fill="#2166ac" fill-opacity="1"/>
<ellipse cx="245" cy="391.5" rx="11" ry="4.5" fill="#2166ac" fill-opacity="0.45"/>
<ellipse cx="211" cy="409" rx="25" ry="6" fill="#b2182b" fill-opacity="1"/>
<ellipse cx="250" cy="409" rx="11" ry="4.5" fill="#b2182b" fill-opacity="0.5"/>
<ellipse cx="207" cy="426" rx="22" ry="6.5" fill="#2166ac" fill-opacity="1"/>
<ellipse cx="251" cy="426" rx="12" ry="6.5" fill="#2166ac" fill-opacity="1"/>
<path d="M194,446 C194,439 200,436 210,436 C220,436 225,439.5 229,439.5 C233,439.5 237,436 244,436 C252,436 257,440 257,446 L257,470 L244,470 L244,455 L240,452 L212,452 L208,455 L208,470 L196,470 Z" fill="#b2182b"/>
<path d="M207,470 L207,460 Q207,450.5 217,450.5 L235,450.5 Q245,450.5 245,460 L245,470 Z" fill="#2166ac" stroke="#f4f4f4" stroke-width="1.2"/>
</g></g>
<rect x="172.2" y="274" width="105.80000000000001" height="192.60000000000002" fill="none" stroke="#9a9a9a" stroke-width="0.9"/>
<rect x="285.0" y="274" width="105.69999999999999" height="192.60000000000002" fill="#f7f6f7"/>
<g clip-path="url(#clipEYZ)">
<g filter="url(#hb4)">
<rect x="277" y="275.5" width="121.69999999999999" height="11" fill="#5fa0d0" fill-opacity="0.25"/>
<ellipse cx="296" cy="281" rx="11.5" ry="6.2" fill="#5fa0d0" fill-opacity="0.18000000000000002"/>
<ellipse cx="366" cy="281" rx="13.5" ry="6.7" fill="#5fa0d0" fill-opacity="0.27"/>
<path d="M277,298 Q337.85,300 398.7,298" stroke="#e4826a" stroke-opacity="0.3" stroke-width="11" fill="none"/>
<ellipse cx="365" cy="299" rx="15.5" ry="6.7" fill="#e4826a" fill-opacity="0.315"/>
<ellipse cx="330" cy="299" rx="23.5" ry="5.7" fill="#e4826a" fill-opacity="0.108"/>
<rect x="277" y="311.5" width="121.69999999999999" height="11" fill="#5fa0d0" fill-opacity="0.375"/>
<ellipse cx="343" cy="317" rx="27.5" ry="6.7" fill="#5fa0d0" fill-opacity="0.342"/>
<path d="M277,337 Q337.85,333 398.7,337" stroke="#e4826a" stroke-opacity="0.375" stroke-width="11" fill="none"/>
<ellipse cx="328" cy="335" rx="19.5" ry="6.7" fill="#e4826a" fill-opacity="0.342"/>
<ellipse cx="360" cy="335" rx="13.5" ry="6.2" fill="#e4826a" fill-opacity="0.162"/>
<path d="M277,356 Q337.85,350 398.7,356" stroke="#5fa0d0" stroke-opacity="0.5" stroke-width="11" fill="none"/>
<ellipse cx="345" cy="353" rx="25.5" ry="6.7" fill="#5fa0d0" fill-opacity="0.765"/>
<ellipse cx="318" cy="353" rx="17.5" ry="6.2" fill="#5fa0d0" fill-opacity="0.54"/>
<path d="M277,377 Q337.85,367 398.7,377" stroke="#e4826a" stroke-opacity="0.5625" stroke-width="11" fill="none"/>
<ellipse cx="322" cy="372" rx="21.5" ry="7.2" fill="#e4826a" fill-opacity="0.765"/>
<ellipse cx="350" cy="372" rx="17.5" ry="6.7" fill="#e4826a" fill-opacity="0.45"/>
<path d="M277,396 Q337.85,386 398.7,396" stroke="#5fa0d0" stroke-opacity="0.5625" stroke-width="11" fill="none"/>
<ellipse cx="310" cy="391" rx="13.5" ry="6.7" fill="#5fa0d0" fill-opacity="0.855"/>
<ellipse cx="365" cy="391" rx="13.5" ry="6.7" fill="#5fa0d0" fill-opacity="0.855"/>
<ellipse cx="337" cy="391" rx="19.5" ry="5.7" fill="#5fa0d0" fill-opacity="0.405"/>
<path d="M277,410 Q337.85,408 398.7,410" stroke="#e4826a" stroke-opacity="0.525" stroke-width="11" fill="none"/>
<ellipse cx="309" cy="409" rx="12.5" ry="5.7" fill="#e4826a" fill-opacity="0.9"/>
<ellipse cx="362" cy="409" rx="13.5" ry="5.7" fill="#e4826a" fill-opacity="0.9"/>
<ellipse cx="335" cy="409" rx="21.5" ry="5.2" fill="#e4826a" fill-opacity="0.45"/>
<path d="M277,429 Q337.85,425 398.7,429" stroke="#5fa0d0" stroke-opacity="0.525" stroke-width="11" fill="none"/>
<ellipse cx="315" cy="427" rx="20.5" ry="8.7" fill="#5fa0d0" fill-opacity="0.9"/>
<ellipse cx="354" cy="427" rx="22.5" ry="9.7" fill="#5fa0d0" fill-opacity="0.9"/>
<ellipse cx="335" cy="427" rx="13.5" ry="7.2" fill="#5fa0d0" fill-opacity="0.7200000000000001"/>
<ellipse cx="290" cy="458" rx="7" ry="10" fill="#2166ac" fill-opacity="0.35"/>
<ellipse cx="385" cy="458" rx="7" ry="10" fill="#2166ac" fill-opacity="0.35"/>
</g><g filter="url(#hb)">
<ellipse cx="296" cy="281" rx="8" ry="4" fill="#2166ac" fill-opacity="0.2"/>
<ellipse cx="366" cy="281" rx="10" ry="4.5" fill="#2166ac" fill-opacity="0.3"/>
<ellipse cx="365" cy="299" rx="12" ry="4.5" fill="#b2182b" fill-opacity="0.35"/>
<ellipse cx="330" cy="299" rx="20" ry="3.5" fill="#b2182b" fill-opacity="0.12"/>
<ellipse cx="343" cy="317" rx="24" ry="4.5" fill="#2166ac" fill-opacity="0.38"/>
<ellipse cx="328" cy="335" rx="16" ry="4.5" fill="#b2182b" fill-opacity="0.38"/>
<ellipse cx="360" cy="335" rx="10" ry="4" fill="#b2182b" fill-opacity="0.18"/>
<ellipse cx="345" cy="353" rx="22" ry="4.5" fill="#2166ac" fill-opacity="0.85"/>
<ellipse cx="318" cy="353" rx="14" ry="4" fill="#2166ac" fill-opacity="0.6"/>
<ellipse cx="322" cy="372" rx="18" ry="5" fill="#b2182b" fill-opacity="0.85"/>
<ellipse cx="350" cy="372" rx="14" ry="4.5" fill="#b2182b" fill-opacity="0.5"/>
<ellipse cx="310" cy="391" rx="10" ry="4.5" fill="#2166ac" fill-opacity="0.95"/>
<ellipse cx="365" cy="391" rx="10" ry="4.5" fill="#2166ac" fill-opacity="0.95"/>
<ellipse cx="337" cy="391" rx="16" ry="3.5" fill="#2166ac" fill-opacity="0.45"/>
<ellipse cx="309" cy="409" rx="9" ry="3.5" fill="#b2182b" fill-opacity="1"/>
<ellipse cx="362" cy="409" rx="10" ry="3.5" fill="#b2182b" fill-opacity="1"/>
<ellipse cx="335" cy="409" rx="18" ry="3" fill="#b2182b" fill-opacity="0.5"/>
<ellipse cx="315" cy="427" rx="17" ry="6.5" fill="#2166ac" fill-opacity="1"/>
<ellipse cx="354" cy="427" rx="19" ry="7.5" fill="#2166ac" fill-opacity="1"/>
<ellipse cx="335" cy="427" rx="10" ry="5" fill="#2166ac" fill-opacity="0.8"/>
<ellipse cx="321" cy="444" rx="14" ry="8" fill="#b2182b" fill-opacity="1"/>
<ellipse cx="353" cy="443" rx="17" ry="9" fill="#b2182b" fill-opacity="1"/>
<ellipse cx="337" cy="446" rx="14" ry="6" fill="#b2182b" fill-opacity="1"/>
<path d="M313.5,470 L313.5,461 Q315,452.6 327,452.6 L347,452.6 Q360,452.6 360,461 L360,470 Z" fill="#2166ac" stroke="#f4f4f4" stroke-width="1.2"/>
<ellipse cx="368" cy="464" rx="5" ry="5" fill="#b2182b" fill-opacity="0.9"/>
</g></g>
<rect x="285.0" y="274" width="105.69999999999999" height="192.60000000000002" fill="none" stroke="#9a9a9a" stroke-width="0.9"/>
<rect x="435.6" y="274" width="105.0" height="192.60000000000002" fill="#f7f6f7"/>
<g clip-path="url(#clipFXZ)">
<g filter="url(#hb4)">
<path d="M522,288 Q490,289 445,298.0" stroke="url(#tBF)" stroke-width="8.0" fill="none"/>
<path d="M522,308 Q490,309 445,320.2" stroke="url(#tRF)" stroke-width="8.3" fill="none"/>
<path d="M522,328 Q490,329 445,342.4" stroke="url(#tBF)" stroke-width="8.6" fill="none"/>
<path d="M522,344 Q490,345 445,360.6" stroke="url(#tRF)" stroke-width="8.9" fill="none"/>
<path d="M522,364 Q490,365 445,382.8" stroke="url(#tBF)" stroke-width="9.2" fill="none"/>
<path d="M522,383.6 Q490,384.6 445,404.6" stroke="url(#tRF)" stroke-width="9.5" fill="none"/>
<path d="M522,402.7 Q490,403.7 445,425.9" stroke="url(#tBF)" stroke-width="9.8" fill="none"/>
<path d="M522,419.8 Q490,420.8 445,445.2" stroke="url(#tRF)" stroke-width="10.1" fill="none"/>
<path d="M522,438 Q490,439 445,465.6" stroke="url(#tBF)" stroke-width="10.4" fill="none"/>
<ellipse cx="517" cy="288" rx="15" ry="8.5" fill="#5fa0d0" fill-opacity="0.75"/>
<ellipse cx="517" cy="308" rx="15" ry="8.5" fill="#e4826a" fill-opacity="0.75"/>
<ellipse cx="517" cy="328" rx="15.5" ry="8.5" fill="#5fa0d0" fill-opacity="0.75"/>
<ellipse cx="517" cy="344" rx="16" ry="9" fill="#e4826a" fill-opacity="0.75"/>
<ellipse cx="517" cy="364" rx="17" ry="10" fill="#5fa0d0" fill-opacity="0.75"/>
<ellipse cx="517" cy="383.6" rx="19" ry="10" fill="#e4826a" fill-opacity="0.75"/>
<ellipse cx="517" cy="402.7" rx="17" ry="10" fill="#5fa0d0" fill-opacity="0.75"/>
<ellipse cx="517" cy="419.8" rx="16" ry="10" fill="#e4826a" fill-opacity="0.75"/>
<ellipse cx="517" cy="438" rx="21" ry="11.5" fill="#5fa0d0" fill-opacity="0.75"/>
<ellipse cx="517" cy="456.5" rx="22" ry="13" fill="#e4826a" fill-opacity="0.75"/>
<ellipse cx="440" cy="300" rx="6" ry="40" fill="#b2182b" fill-opacity="0.08"/>
<ellipse cx="440" cy="360" rx="6" ry="40" fill="#2166ac" fill-opacity="0.06"/>
<ellipse cx="486" cy="396" rx="8" ry="6" fill="#e4826a" fill-opacity="0.6"/>
<ellipse cx="490" cy="418" rx="5" ry="5" fill="#5fa0d0" fill-opacity="0.5"/>
</g><g filter="url(#hb)">
<ellipse cx="518" cy="288" rx="10" ry="5.5" fill="#2166ac" fill-opacity="0.9"/>
<ellipse cx="518" cy="308" rx="10" ry="5.5" fill="#b2182b" fill-opacity="0.95"/>
<ellipse cx="518" cy="328" rx="10.5" ry="5.5" fill="#2166ac" fill-opacity="0.95"/>
<ellipse cx="518" cy="344" rx="11" ry="6" fill="#b2182b" fill-opacity="1"/>
<ellipse cx="518" cy="364" rx="12" ry="7" fill="#2166ac" fill-opacity="1"/>
<ellipse cx="518" cy="383.6" rx="14" ry="7" fill="#b2182b" fill-opacity="1"/>
<ellipse cx="518" cy="402.7" rx="12" ry="7" fill="#2166ac" fill-opacity="1"/>
<ellipse cx="518" cy="419.8" rx="11" ry="7" fill="#b2182b" fill-opacity="1"/>
<ellipse cx="518" cy="438" rx="16" ry="8.5" fill="#2166ac" fill-opacity="1"/>
<ellipse cx="518" cy="456.5" rx="17" ry="10" fill="#b2182b" fill-opacity="1"/>
<ellipse cx="492" cy="461" rx="5" ry="5" fill="#2166ac" fill-opacity="0.85"/>
</g></g>
<rect x="435.6" y="274" width="105.0" height="192.60000000000002" fill="none" stroke="#9a9a9a" stroke-width="0.9"/>
<rect x="547.6" y="274" width="105.39999999999998" height="192.60000000000002" fill="#f7f6f7"/>
<g clip-path="url(#clipFYZ)">
<g filter="url(#hb4)">
<path d="M566,292 Q598,293 645,302.0" stroke="url(#tBG)" stroke-width="8.0" fill="none"/>
<path d="M566,312 Q598,313 645,324.2" stroke="url(#tRG)" stroke-width="8.3" fill="none"/>
<path d="M566,330 Q598,331 645,344.4" stroke="url(#tBG)" stroke-width="8.6" fill="none"/>
<path d="M566,348 Q598,349 645,364.6" stroke="url(#tRG)" stroke-width="8.9" fill="none"/>
<path d="M566,368 Q598,369 645,386.8" stroke="url(#tBG)" stroke-width="9.2" fill="none"/>
<path d="M566,386.5 Q598,387.5 645,407.5" stroke="url(#tRG)" stroke-width="9.5" fill="none"/>
<path d="M566,406 Q598,407 645,429.2" stroke="url(#tBG)" stroke-width="9.8" fill="none"/>
<path d="M566,423.5 Q598,424.5 645,448.9" stroke="url(#tRG)" stroke-width="10.1" fill="none"/>
<path d="M566,441 Q598,442 645,468.6" stroke="url(#tBG)" stroke-width="10.4" fill="none"/>
<ellipse cx="569" cy="292" rx="14" ry="8.5" fill="#5fa0d0" fill-opacity="0.7"/>
<ellipse cx="569" cy="312" rx="15" ry="9" fill="#e4826a" fill-opacity="0.7"/>
<ellipse cx="569" cy="330" rx="14" ry="8.5" fill="#5fa0d0" fill-opacity="0.7"/>
<ellipse cx="569" cy="348" rx="15" ry="9" fill="#e4826a" fill-opacity="0.7"/>
<ellipse cx="569" cy="368" rx="16" ry="10" fill="#5fa0d0" fill-opacity="0.7"/>
<ellipse cx="569" cy="386.5" rx="17" ry="10" fill="#e4826a" fill-opacity="0.7"/>
<ellipse cx="569" cy="406" rx="15" ry="10" fill="#5fa0d0" fill-opacity="0.7"/>
<ellipse cx="569" cy="423.5" rx="15" ry="10" fill="#e4826a" fill-opacity="0.7"/>
<ellipse cx="569" cy="441" rx="16" ry="11" fill="#5fa0d0" fill-opacity="0.7"/>
<ellipse cx="569" cy="459" rx="21" ry="13" fill="#e4826a" fill-opacity="0.7"/>
<ellipse cx="568" cy="276" rx="10" ry="4" fill="#e4826a" fill-opacity="0.6"/>
</g><g filter="url(#hb)">
<ellipse cx="569" cy="292" rx="9" ry="5.5" fill="#2166ac" fill-opacity="0.85"/>
<ellipse cx="569" cy="312" rx="10" ry="6" fill="#b2182b" fill-opacity="0.9"/>
<ellipse cx="569" cy="330" rx="9" ry="5.5" fill="#2166ac" fill-opacity="0.95"/>
<ellipse cx="569" cy="348" rx="10" ry="6" fill="#b2182b" fill-opacity="0.95"/>
<ellipse cx="569" cy="368" rx="11" ry="7" fill="#2166ac" fill-opacity="1"/>
<ellipse cx="569" cy="386.5" rx="12" ry="7" fill="#b2182b" fill-opacity="1"/>
<ellipse cx="569" cy="406" rx="10" ry="7" fill="#2166ac" fill-opacity="1"/>
<ellipse cx="569" cy="423.5" rx="10" ry="7" fill="#b2182b" fill-opacity="1"/>
<ellipse cx="569" cy="441" rx="11" ry="8" fill="#2166ac" fill-opacity="1"/>
<ellipse cx="569" cy="459" rx="16" ry="10" fill="#b2182b" fill-opacity="1"/>
</g></g>
<rect x="547.6" y="274" width="105.39999999999998" height="192.60000000000002" fill="none" stroke="#9a9a9a" stroke-width="0.9"/>
<rect x="192" y="274.8" width="66" height="191.6" fill="none" stroke="#1f2a8c" stroke-width="1.6"/>
<rect x="304.4" y="274.8" width="66.1" height="191.6" fill="none" stroke="#c8202e" stroke-width="1.6"/>
<rect x="455.4" y="274.8" width="65.8" height="191.6" fill="none" stroke="#1f2a8c" stroke-width="1.6"/>
<rect x="567.5" y="274.8" width="65.9" height="191.6" fill="none" stroke="#c8202e" stroke-width="1.6"/>
<path d="M172.2,418.5 h2 M278.0,418.5 h-2 M172.2,370.3 h2 M278.0,370.3 h-2 M172.2,322.1 h2 M278.0,322.1 h-2 M285.0,418.5 h2 M390.7,418.5 h-2 M285.0,370.3 h2 M390.7,370.3 h-2 M285.0,322.1 h2 M390.7,322.1 h-2 M435.6,418.5 h2 M540.6,418.5 h-2 M435.6,370.3 h2 M540.6,370.3 h-2 M435.6,322.1 h2 M540.6,322.1 h-2 M547.6,418.5 h2 M653.0,418.5 h-2 M547.6,370.3 h2 M653.0,370.3 h-2 M547.6,322.1 h2 M653.0,322.1 h-2" stroke="#777" stroke-width="0.8"/>
<text x="166.7" y="468" font-size="12.9" text-anchor="end" font-weight="normal" fill="#231f20" >0</text>
<text x="171.0" y="420.7" font-size="12.9" text-anchor="end" font-weight="normal" fill="#231f20" >10</text>
<text x="171.0" y="375.1" font-size="12.9" text-anchor="end" font-weight="normal" fill="#231f20" >20</text>
<text x="171.0" y="324.9" font-size="12.9" text-anchor="end" font-weight="normal" fill="#231f20" >30</text>
<text x="171.0" y="277.4" font-size="12.9" text-anchor="end" font-weight="normal" fill="#231f20" >40</text>
<text x="429.09999999999997" y="468" font-size="12.9" text-anchor="end" font-weight="normal" fill="#231f20" >0</text>
<text x="433.4" y="420.7" font-size="12.9" text-anchor="end" font-weight="normal" fill="#231f20" >10</text>
<text x="433.4" y="375.1" font-size="12.9" text-anchor="end" font-weight="normal" fill="#231f20" >20</text>
<text x="433.4" y="324.9" font-size="12.9" text-anchor="end" font-weight="normal" fill="#231f20" >30</text>
<text x="433.4" y="277.4" font-size="12.9" text-anchor="end" font-weight="normal" fill="#231f20" >40</text>
<text transform="translate(150.0,369.9) rotate(-90)" font-size="12.9" text-anchor="middle" fill="#231f20">Z(Units)</text>
<text transform="translate(413.3,369.9) rotate(-90)" font-size="12.9" text-anchor="middle" fill="#231f20">Z(Units)</text>
<text x="225.1" y="266.5" font-size="12.9" text-anchor="middle" font-weight="normal" fill="#231f20" >XZ-Plane</text>
<text x="337.2" y="266.5" font-size="12.9" text-anchor="middle" font-weight="normal" fill="#231f20" >YZ-Plane</text>
<text x="488.6" y="266.5" font-size="12.9" text-anchor="middle" font-weight="normal" fill="#231f20" >XZ-Plane</text>
<text x="600.3" y="266.5" font-size="12.9" text-anchor="middle" font-weight="normal" fill="#231f20" >YZ-Plane</text>
<text x="187.4" y="481" font-size="12.9" text-anchor="middle" font-weight="normal" fill="#231f20" >14</text>
<text x="257.9" y="481" font-size="12.9" text-anchor="middle" font-weight="normal" fill="#231f20" >0</text>
<text x="303.6" y="481" font-size="12.9" text-anchor="middle" font-weight="normal" fill="#231f20" >0</text>
<text x="369.9" y="481" font-size="12.9" text-anchor="middle" font-weight="normal" fill="#231f20" >14</text>
<text x="450.3" y="481" font-size="12.9" text-anchor="middle" font-weight="normal" fill="#231f20" >14</text>
<text x="520.6" y="481" font-size="12.9" text-anchor="middle" font-weight="normal" fill="#231f20" >0</text>
<text x="566.8" y="481" font-size="12.9" text-anchor="middle" font-weight="normal" fill="#231f20" >0</text>
<text x="633.5" y="481" font-size="12.9" text-anchor="middle" font-weight="normal" fill="#231f20" >14</text>
<text x="280.9" y="494.5" font-size="12.9" text-anchor="middle" font-weight="normal" fill="#231f20" >XIY(Units)</text>
<text x="543.4" y="494.5" font-size="12.9" text-anchor="middle" font-weight="normal" fill="#231f20" >XIY(Units)</text>
<rect x="663.2" y="284.6" width="12.4" height="169.4" fill="url(#cbF)" stroke="#888" stroke-width="0.6"/>
<text x="670" y="281.5" font-size="12.9" text-anchor="middle" font-weight="normal" fill="#231f20" >Max</text>
<text x="669.5" y="467.4" font-size="12.9" text-anchor="middle" font-weight="normal" fill="#231f20" >-Max</text>
</svg></body></html>
